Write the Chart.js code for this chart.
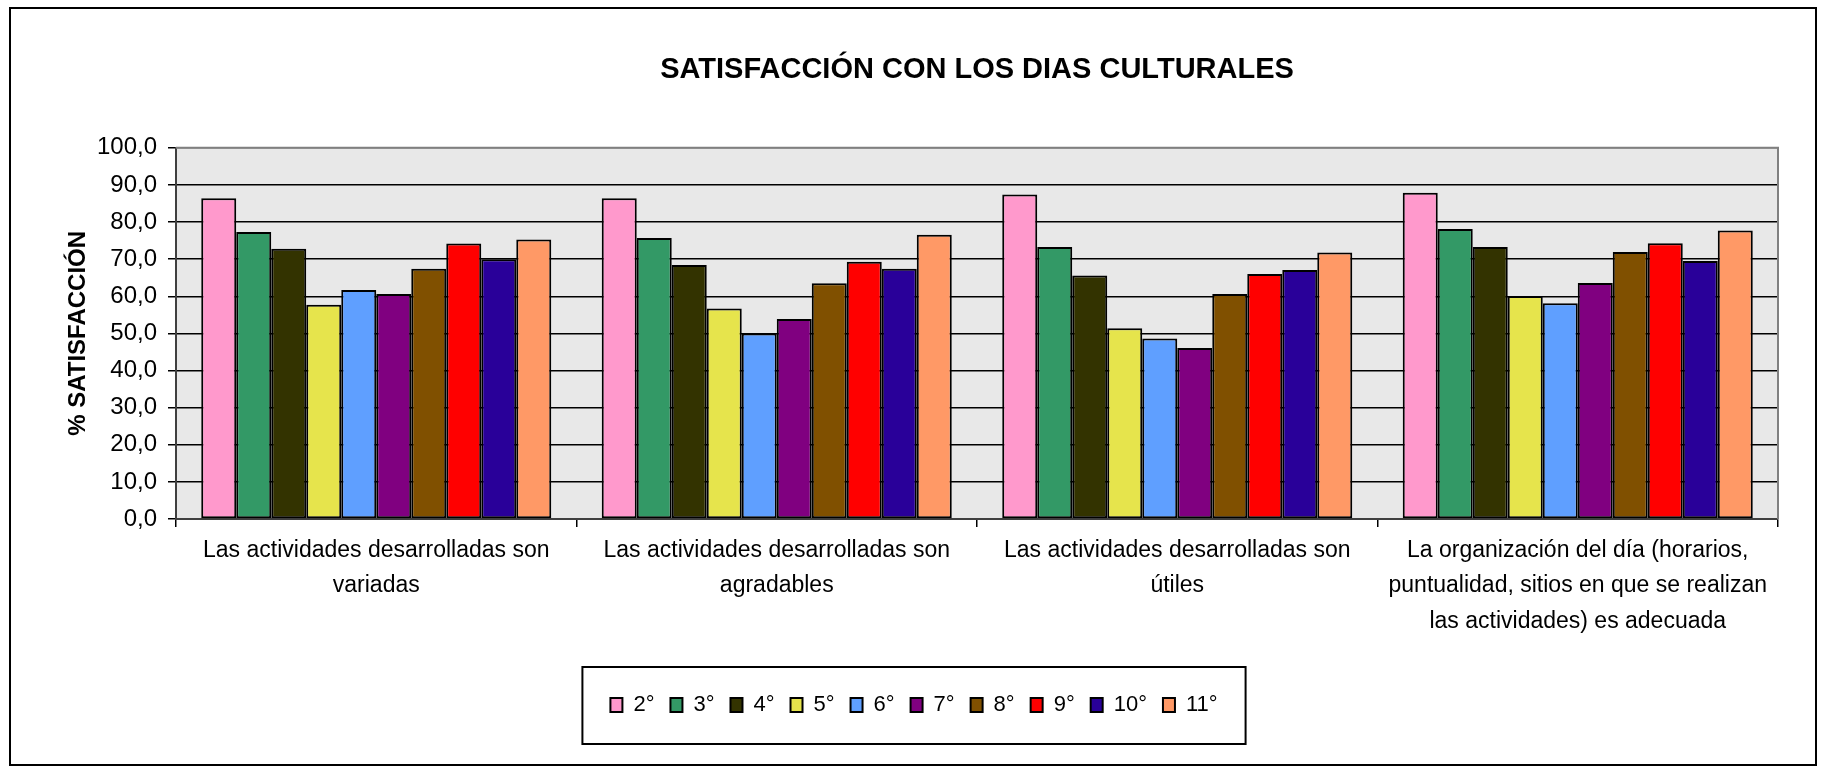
<!DOCTYPE html>
<html lang="es">
<head>
<meta charset="utf-8">
<title>Satisfacción con los días culturales</title>
<script src="https://cdn.jsdelivr.net/npm/chart.js@4.4.1/dist/chart.umd.min.js"></script>
<style>
  body { margin: 0; background: #fff; }
  #grafica { display: block; }
</style>
</head>
<body>
<canvas id="grafica" width="1826" height="772"></canvas>
<script>
// categorias (eje x), cada una partida en lineas
const categorias = [
  ["Las actividades desarrolladas son", "variadas"],
  ["Las actividades desarrolladas son", "agradables"],
  ["Las actividades desarrolladas son", "útiles"],
  ["La organización del día (horarios,", "puntualidad, sitios en que se realizan", "las actividades) es adecuada"]
];

// grados
const grados = ["2°", "3°", "4°", "5°", "6°", "7°", "8°", "9°", "10°", "11°"];

// % de satisfaccion por grado
const grado2 = [86.4, 86.4, 87.4, 87.9];
const grado3 = [77.3, 75.7, 73.3, 78.1];
const grado4 = [72.8, 68.4, 65.6, 73.3];
const grado5 = [57.7, 56.7, 51.4, 60.1];
const grado6 = [61.7, 50.0, 48.6, 58.1];
const grado7 = [60.6, 53.9, 46.1, 63.6];
const grado8 = [67.4, 63.5, 60.6, 71.9];
const grado9 = [74.2, 69.3, 66.0, 74.3];
const grado10 = [70.0, 67.4, 67.1, 69.5];
const grado11 = [75.3, 76.6, 71.8, 77.7];

const colores = ["#FF99CC", "#339966", "#333300", "#E6E44C", "#5F9FFF",
                 "#800080", "#805000", "#FF0000", "#290099", "#FF9966"];

const series = [grado2, grado3, grado4, grado5, grado6, grado7, grado8, grado9, grado10, grado11];

const fuente = "'Liberation Sans', Arial, sans-serif";

// fondo gris del area de trazado y marco exterior
const marcos = {
  id: "marcos",
  beforeDraw(chart) {
    const { ctx, chartArea: a } = chart;
    ctx.save();
    ctx.fillStyle = "#E8E8E8";
    ctx.fillRect(a.left, a.top, a.right - a.left, a.bottom - a.top);
    ctx.restore();
  },
  beforeDatasetsDraw(chart) {
    const { ctx, chartArea: a } = chart;
    ctx.save();
    ctx.strokeStyle = "#808080";
    ctx.lineWidth = 2;
    ctx.beginPath();
    ctx.moveTo(a.left, a.top);
    ctx.lineTo(a.right, a.top);
    ctx.lineTo(a.right, a.bottom);
    ctx.stroke();
    ctx.restore();
  },
  afterDraw(chart) {
    const { ctx } = chart;
    ctx.save();
    ctx.strokeStyle = "#000";
    ctx.lineWidth = 2;
    ctx.strokeRect(10, 8, 1806, 757);
    // caja de la leyenda
    const cajas = chart.legend.legendHitBoxes;
    if (cajas.length) {
      const primera = cajas[0];
      const ultima = cajas[cajas.length - 1];
      const centro = primera.top + primera.height / 2;
      const izq = primera.left - 28;
      const der = ultima.left + ultima.width + 28;
      ctx.strokeRect(izq, centro - 38, der - izq, 77);
    }
    ctx.restore();
  }
};

const ctx = document.getElementById("grafica");

new Chart(ctx, {
  type: "bar",
  data: {
    labels: categorias,
    datasets: grados.map((g, i) => ({
      label: g,
      data: series[i],
      backgroundColor: colores[i],
      borderColor: "#000",
      borderWidth: 2,
      borderSkipped: false,
      categoryPercentage: 0.874,
      barPercentage: 1
    }))
  },
  options: {
    responsive: false,
    animation: false,
    layout: { padding: { left: 50, right: 48, top: 0, bottom: 46 } },
    scales: {
      x: {
        grid: { display: true, drawOnChartArea: false, drawTicks: true, tickLength: 8, color: "#000", lineWidth: 1.5 },
        border: { color: "#404040", width: 2 },
        ticks: { color: "#000", padding: 6, maxRotation: 0, autoSkip: false, font: { family: fuente, size: 23, lineHeight: 1.54 } },
        afterFit(scale) { scale.height = 159; }
      },
      y: {
        min: 0,
        max: 100,
        ticks: {
          stepSize: 10,
          color: "#000",
          padding: 11,
          font: { family: fuente, size: 24 },
          callback: (v) => v.toFixed(1).replace(".", ",")
        },
        grid: {
          color: (c) => (c.tick && c.tick.value === 100 ? "#808080" : "#000"),
          tickColor: "#000",
          lineWidth: 1.5,
          tickLength: 8
        },
        border: { color: "#404040", width: 2 },
        title: {
          display: true,
          text: "% SATISFACCIÓN",
          color: "#000",
          padding: { top: 14, bottom: 0 },
          font: { family: fuente, size: 24, weight: "bold" }
        },
        afterFit(scale) { scale.width = 126; }
      }
    },
    plugins: {
      title: {
        display: true,
        fullSize: false,
        text: "SATISFACCIÓN CON LOS DIAS CULTURALES",
        color: "#000",
        padding: { top: 53, bottom: 60 },
        font: { family: fuente, size: 29, weight: "bold" }
      },
      legend: {
        position: "bottom",
        labels: {
          color: "#000",
          boxWidth: 12,
          boxHeight: 14,
          padding: 16,
          font: { family: fuente, size: 22 }
        }
      },
      tooltip: { enabled: false }
    }
  },
  plugins: [marcos]
});
</script>
</body>
</html>
